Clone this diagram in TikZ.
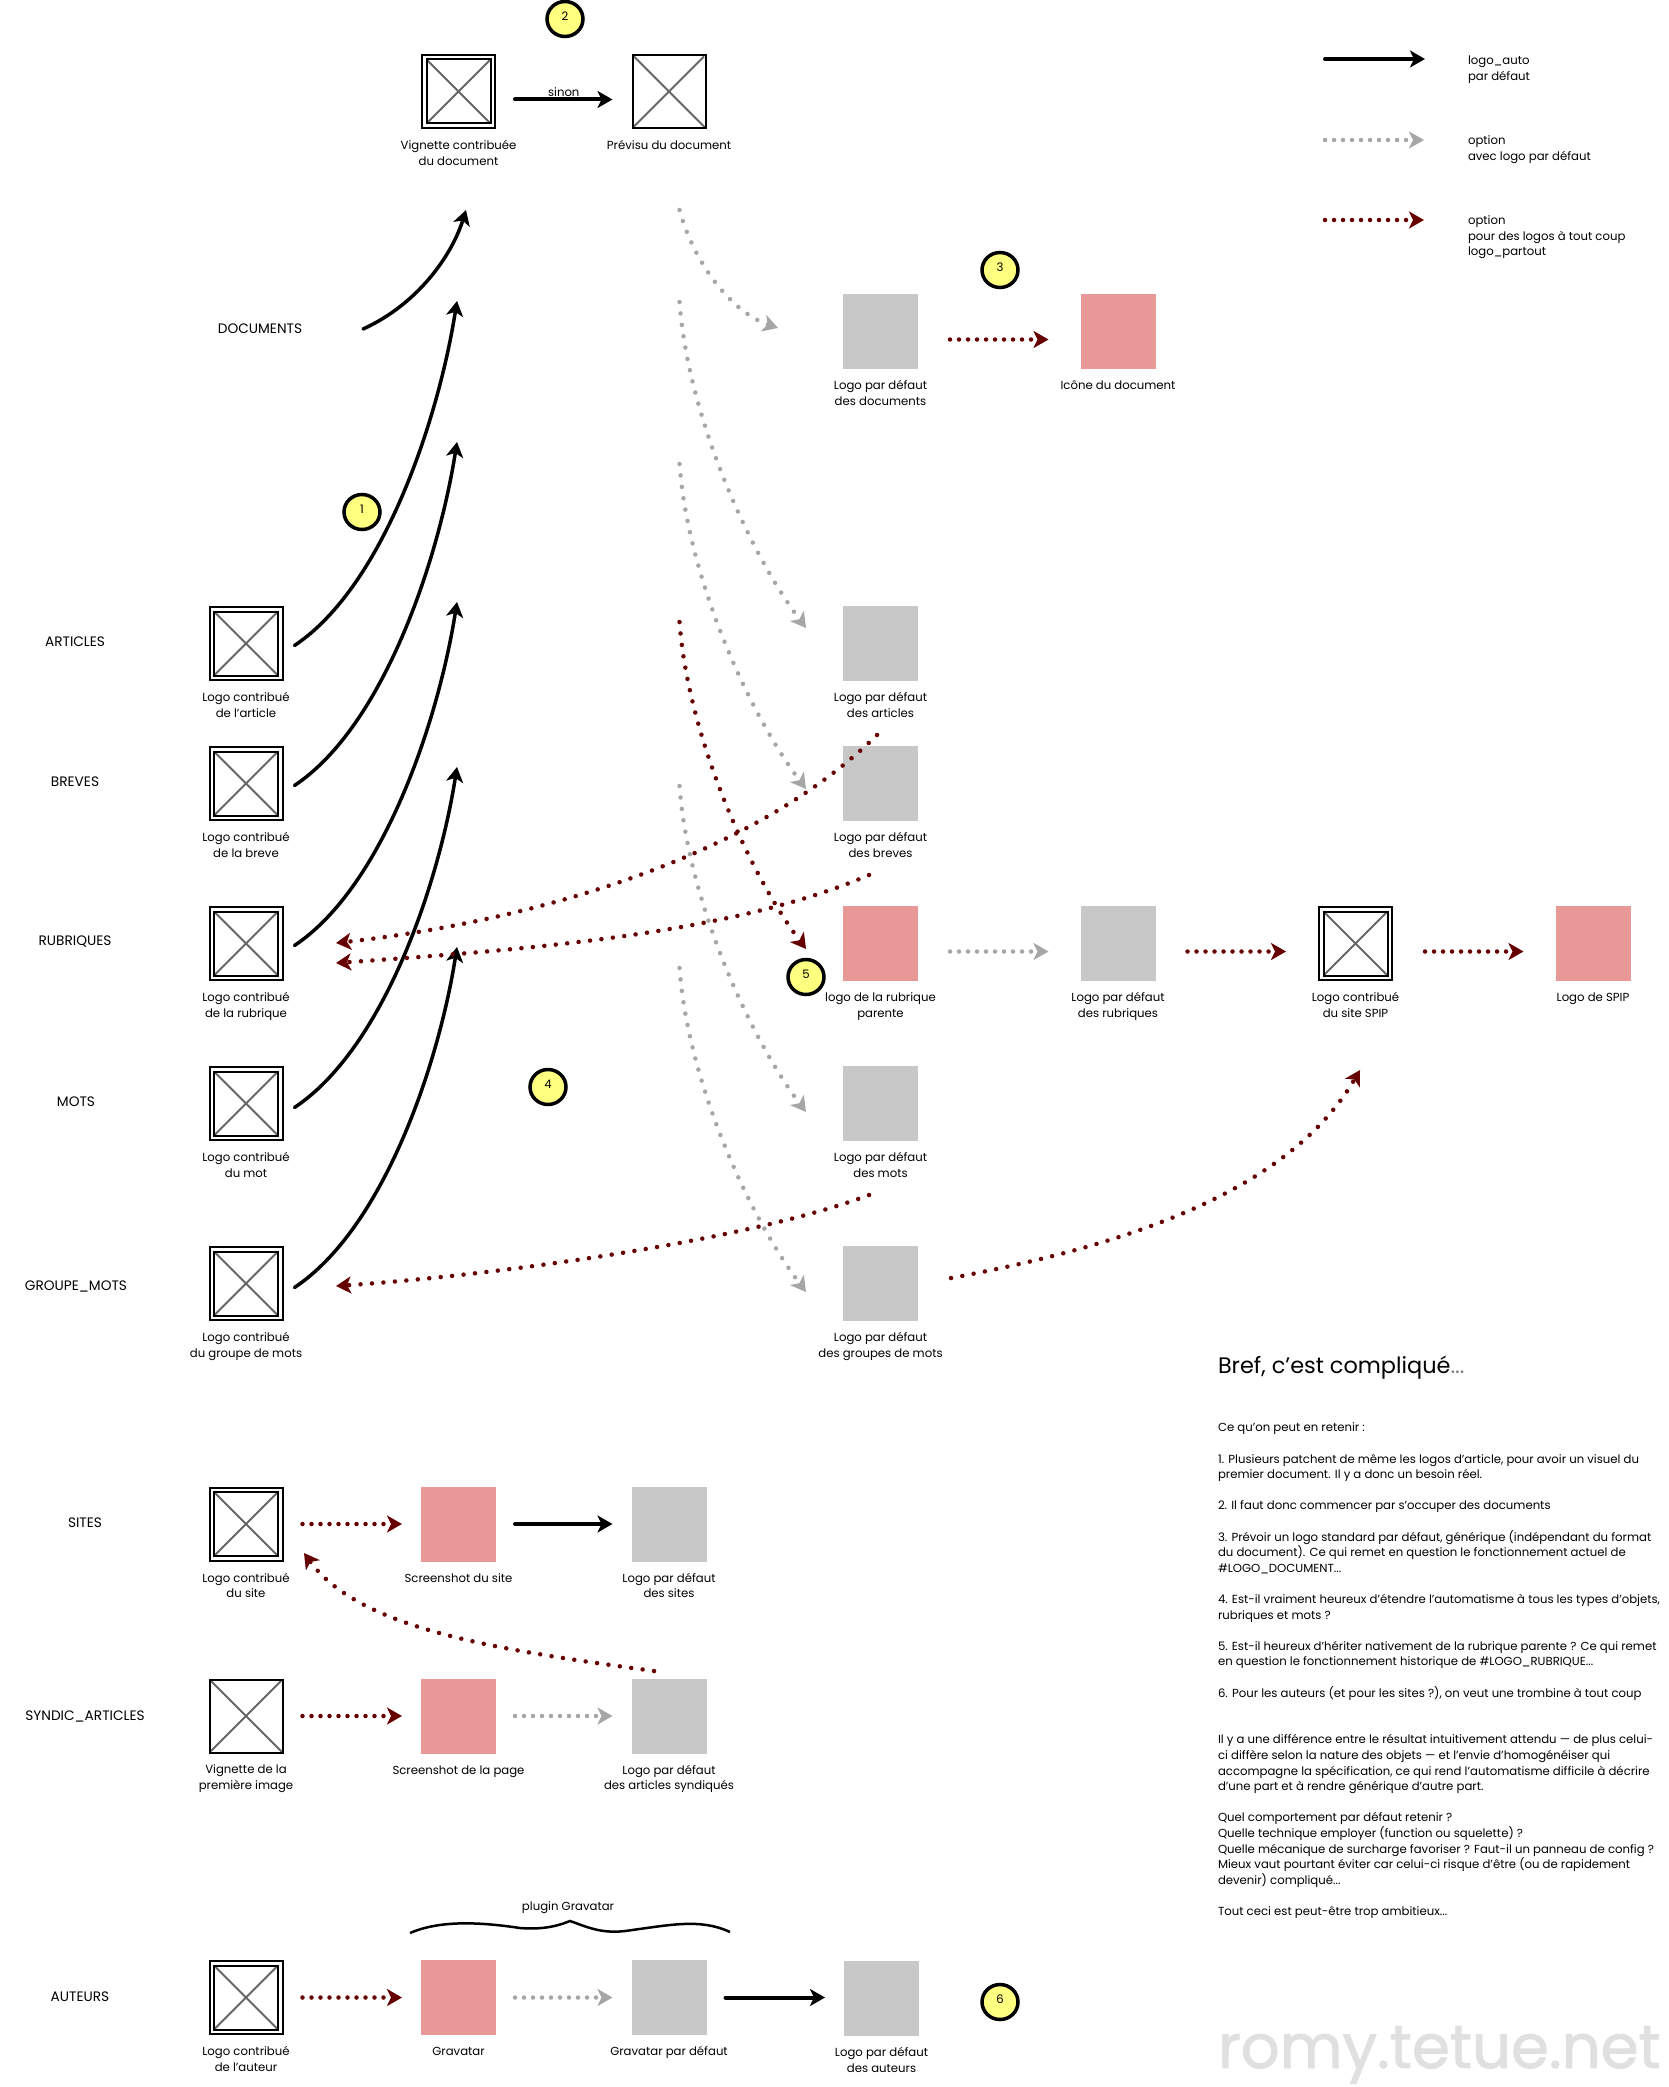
\documentclass[tikz,border=0pt]{standalone}
\usepackage{fontspec}
\setmainfont{Poppins}
\usetikzlibrary{arrows.meta,positioning,shapes.geometric}
\definecolor{rouille}{HTML}{660000}
\definecolor{cendre}{HTML}{A6A6A6}
\definecolor{logogris}{HTML}{C8C8C8}
\definecolor{logorose}{HTML}{E99898}
\definecolor{bulleJaune}{HTML}{FFFF80}
\definecolor{filigrane}{HTML}{E0E0E0}

\begin{document}
\begin{tikzpicture}[
    x=1pt, y=-1pt,
    texte/.style={font={\fontsize{11.7}{15.6}\selectfont}, inner sep=0pt, outer sep=0pt},
    legende/.style={texte, align=center, execute at begin node=\strut},
    note/.style={texte, align=left, anchor=west},
    objet/.style={texte, anchor=center, font={\fontsize{13.7}{15.6}\selectfont}},
    vide/.style={rectangle, draw, line width=2pt, minimum size=73pt, inner sep=0pt, outer sep=1pt,
        path picture={\draw[color=black!60, line width=2pt, shorten <=2pt, shorten >=2pt]
            (path picture bounding box.north west) -- (path picture bounding box.south east)
            (path picture bounding box.north east) -- (path picture bounding box.south west);}},
    contribue/.style={vide, double, double distance=2.5pt, minimum size=68.5pt, outer sep=3.25pt},
    gris/.style={rectangle, fill=logogris, minimum size=75pt, inner sep=0pt, outer sep=0pt},
    rose/.style={gris, fill=logorose},
    bulle/.style={ellipse, draw, line width=3.5pt, fill=bulleJaune, minimum width=36pt, minimum height=35pt,
        inner sep=0pt, font={\fontsize{11.7}{12}\selectfont}},
    noir/.style={line width=4pt, line cap=round, -{Stealth[length=15pt,width=17pt,inset=4pt]}},
    courbe/.style={noir, line width=3.5pt},
    pointille/.style={line width=4.5pt, line cap=round, dash pattern=on 0pt off 9pt,
        -{Stealth[length=15pt,width=17pt,inset=4pt]}},
    option/.style={pointille, color=cendre},
    partout/.style={pointille, color=rouille},
    espace/.style={dash pattern=on 0pt off 11.5pt},
    ecart/.style={shorten <=#1, shorten >=#1}
]

    \useasboundingbox (0,0) rectangle (1668,2087);

    % Document
    \node[contribue] (doc_vignette) at (458.5,91.5) {};
    \node[vide] (doc_previsu) at (669,91.5) {};
    \node[gris] (doc_defaut) at (880.5,331.5) {};
    \node[rose] (doc_icone) at (1118,331.5) {};

    % Objets editoriaux
    \node[contribue] (art_logo) at (246,643.5) {};
    \node[contribue] (bre_logo) at (246,783.5) {};
    \node[contribue] (rub_logo) at (246,943.5) {};
    \node[contribue] (mot_logo) at (246,1103.5) {};
    \node[contribue] (grp_logo) at (246,1283.5) {};
    \node[gris] (art_defaut) at (880.5,643.5) {};
    \node[gris] (bre_defaut) at (880.5,783.5) {};
    \node[rose] (rub_parente) at (880.5,943.5) {};
    \node[gris] (mot_defaut) at (880.5,1103.5) {};
    \node[gris] (grp_defaut) at (880.5,1283.5) {};
    \node[gris] (rub_defaut) at (1118,943.5) {};
    \node[contribue] (spip_logo) at (1355.5,943.5) {};
    \node[rose] (spip_defaut) at (1593,943.5) {};

    % Sites, syndication, auteurs
    \node[contribue] (site_logo) at (246,1524) {};
    \node[rose] (site_shot) at (458.5,1524) {};
    \node[gris] (site_defaut) at (669,1524) {};
    \node[vide] (syn_vignette) at (246,1716) {};
    \node[rose] (syn_shot) at (458.5,1716) {};
    \node[gris] (syn_defaut) at (669,1716) {};
    \node[contribue] (aut_logo) at (246,1997.5) {};
    \node[rose] (aut_gravatar) at (458.5,1997.5) {};
    \node[gris] (aut_grav_defaut) at (669,1997.5) {};
    \node[gris] (aut_defaut) at (881.5,1998.5) {};

    % Legendes des logos
    \node[legende, below=11.5pt of doc_vignette] (t1) {Vignette contribuée\\du document};
    \node[legende, below=10pt of doc_previsu] (t2) {Prévisu du document};
    \node[legende, below=11.5pt of doc_defaut] (t3) {Logo par défaut\\des documents};
    \node[legende, below=10pt of doc_icone] (t4) {Icône du document};
    \node[legende, below=11.5pt of art_logo] (t5) {Logo contribué\\de l'article};
    \node[legende, below=11.5pt of bre_logo] (t6) {Logo contribué\\de la breve};
    \node[legende, below=11.5pt of rub_logo] (t7) {Logo contribué\\de la rubrique};
    \node[legende, below=11.5pt of mot_logo] (t8) {Logo contribué\\du mot};
    \node[legende, below=11.5pt of grp_logo] (t9) {Logo contribué\\du groupe de mots};
    \node[legende, below=11.5pt of art_defaut] (t10) {Logo par défaut\\des articles};
    \node[legende, below=11.5pt of bre_defaut] (t11) {Logo par défaut\\des breves};
    \node[legende, below=11.5pt of rub_parente] (t12) {logo de la rubrique\\parente};
    \node[legende, below=11.5pt of mot_defaut] (t13) {Logo par défaut\\des mots};
    \node[legende, below=11.5pt of grp_defaut] (t14) {Logo par défaut\\des groupes de mots};
    \node[legende, below=11.5pt of rub_defaut] (t15) {Logo par défaut\\des rubriques};
    \node[legende, below=11.5pt of spip_logo] (t16) {Logo contribué\\du site SPIP};
    \node[legende, below=10pt of spip_defaut] (t17) {Logo de SPIP};
    \node[legende, below=11.5pt of site_logo] (t18) {Logo contribué\\du site};
    \node[legende, below=10pt of site_shot] (t19) {Screenshot du site};
    \node[legende, below=11.5pt of site_defaut] (t20) {Logo par défaut\\des sites};
    \node[legende, below=11.5pt of syn_vignette] (t21) {Vignette de la\\première image};
    \node[legende, below=10pt of syn_shot] (t22) {Screenshot de la page};
    \node[legende, below=11.5pt of syn_defaut] (t23) {Logo par défaut\\des articles syndiqués};
    \node[legende, below=11.5pt of aut_logo] (t24) {Logo contribué\\de l'auteur};
    \node[legende, below=10pt of aut_gravatar] (t25) {Gravatar};
    \node[legende, below=10pt of aut_grav_defaut] (t26) {Gravatar par défaut};
    \node[legende, below=11.5pt of aut_defaut] (t27) {Logo par défaut\\des auteurs};

    % Types d'objets
    \node[objet] (documents) at (260,329) {DOCUMENTS};
    \node[objet] (articles) at (75,642) {ARTICLES};
    \node[objet] (breves) at (75,782) {BREVES};
    \node[objet] (rubriques) at (75,942) {RUBRIQUES};
    \node[objet] (mots) at (76,1102) {MOTS};
    \node[objet] (groupe) at (76,1286) {GROUPE\_MOTS};
    \node[objet] (sites) at (85,1523) {SITES};
    \node[objet] (syndic) at (85,1716) {SYNDIC\_ARTICLES};
    \node[objet] (auteurs) at (80,1997) {AUTEURS};

    % Bulles
    \node[bulle] (n1) at (362,512) {\raisebox{5pt}{1}};
    \node[bulle] (n2) at (565,19) {\raisebox{5pt}{2}};
    \node[bulle] (n3) at (1000,270) {\raisebox{5pt}{3}};
    \node[bulle] (n4) at (548,1087) {\raisebox{5pt}{4}};
    \node[bulle] (n5) at (806,977) {\raisebox{5pt}{5}};
    \node[bulle] (n6) at (1000,2002) {\raisebox{5pt}{6}};

    % Bouts libres des fleches
    \coordinate (fin_doc) at (466,210);
    \coordinate (fin_art) at (457,301);
    \coordinate (fin_bre) at (457,442);
    \coordinate (fin_rub) at (457,602);
    \coordinate (fin_mot) at (457,767);
    \coordinate (fin_grp) at (457,947);
    \coordinate (opt_doc_a) at (679.5,210);
    \coordinate (opt_doc_b) at (778,328);
    \coordinate (opt_art_a) at (679.5,302);
    \coordinate (opt_art_b) at (806,628);
    \coordinate (opt_bre_a) at (679.5,464);
    \coordinate (opt_bre_b) at (806,789);
    \coordinate (opt_rub_a) at (679.5,622);
    \coordinate (opt_rub_b) at (806,949);
    \coordinate (opt_mot_a) at (679.5,786);
    \coordinate (opt_mot_b) at (806,1112);
    \coordinate (opt_grp_a) at (679.5,968);
    \coordinate (opt_grp_b) at (806,1292);
    \coordinate (ret_art_a) at (877,735);
    \coordinate (ret_art_b) at (336,943);
    \coordinate (ret_bre_a) at (869,875);
    \coordinate (ret_bre_b) at (336,963);
    \coordinate (ret_mot_a) at (869,1195);
    \coordinate (ret_mot_b) at (336,1286);
    \coordinate (ret_grp_a) at (951,1278);
    \coordinate (ret_grp_b) at (1360,1070);
    \coordinate (ret_syn_a) at (654,1671);
    \coordinate (ret_syn_b) at (304,1553);

    % Logo_auto
    \draw[courbe] ([xshift=61pt]documents.east) .. controls +(55,-25) and +(-14,45) .. (fin_doc);
    \draw[courbe] ([xshift=11pt,yshift=-2pt]art_logo.east) .. controls +(90,-60) and +(-18,115) .. (fin_art);
    \draw[courbe] ([xshift=11pt,yshift=-2pt]bre_logo.east) .. controls +(90,-60) and +(-18,115) .. (fin_bre);
    \draw[courbe] ([xshift=11pt,yshift=-2pt]rub_logo.east) .. controls +(90,-60) and +(-18,115) .. (fin_rub);
    \draw[courbe] ([xshift=11pt,yshift=-4pt]mot_logo.east) .. controls +(90,-60) and +(-18,115) .. (fin_mot);
    \draw[courbe] ([xshift=11pt,yshift=-4pt]grp_logo.east) .. controls +(90,-60) and +(-18,115) .. (fin_grp);

    % Options
    \draw[option, espace] (opt_doc_a) .. controls +(15,55) and +(-45,-15) .. (opt_doc_b);
    \draw[option, espace] (opt_art_a) .. controls +(8,110) and +(-60,-80) .. (opt_art_b);
    \draw[option, espace] (opt_bre_a) .. controls +(8,110) and +(-60,-80) .. (opt_bre_b);
    \draw[partout, espace] (opt_rub_a) .. controls +(8,110) and +(-60,-80) .. (opt_rub_b);
    \draw[option, espace] (opt_mot_a) .. controls +(8,110) and +(-60,-80) .. (opt_mot_b);
    \draw[option, espace] (opt_grp_a) .. controls +(8,110) and +(-60,-80) .. (opt_grp_b);

    % Retours
    \draw[partout, espace] (ret_art_a) .. controls (740,870) and (500,925) .. (ret_art_b);
    \draw[partout, espace] (ret_bre_a) .. controls (730,935) and (520,950) .. (ret_bre_b);
    \draw[partout, espace] (ret_mot_a) .. controls (750,1240) and (500,1275) .. (ret_mot_b);
    \draw[partout, espace] (ret_grp_a) .. controls (1130,1245) and (1290,1190) .. (ret_grp_b);
    \draw[partout, espace] (ret_syn_a) .. controls (500,1650) and (360,1630) .. (ret_syn_b);

    % Fleches droites
    \draw[noir, ecart=19pt] ([yshift=-8pt]doc_vignette.east) -- ([yshift=-8pt]doc_previsu.west) node[midway, above=3pt, texte] (sinon) {sinon};
    \draw[partout, ecart=32pt] ([yshift=-8pt]doc_defaut.east) -- ([yshift=-8pt]doc_icone.west);
    \draw[option, ecart=32pt] ([yshift=-8pt]rub_parente.east) -- ([yshift=-8pt]rub_defaut.west);
    \draw[partout, ecart=32pt] ([yshift=-8pt]rub_defaut.east) -- ([yshift=-8pt]spip_logo.west);
    \draw[partout, ecart=32pt] ([yshift=-8pt]spip_logo.east) -- ([yshift=-8pt]spip_defaut.west);
    \draw[partout, ecart=19pt] (site_logo.east) -- (site_shot.west);
    \draw[noir, ecart=19pt] (site_shot.east) -- (site_defaut.west);
    \draw[partout, ecart=19pt] (syn_vignette.east) -- (syn_shot.west);
    \draw[option, ecart=19pt] (syn_shot.east) -- (syn_defaut.west);
    \draw[partout, ecart=19pt] (aut_logo.east) -- (aut_gravatar.west);
    \draw[option, ecart=19pt] (aut_gravatar.east) -- (aut_grav_defaut.west);
    \draw[noir, ecart=19pt] (aut_grav_defaut.east) -- (aut_grav_defaut.east -| aut_defaut.west);

    % Plugin
    \node[texte] (plugin) at (568,1908) {plugin Gravatar};
    \draw[line width=2.5pt] (410,1933) .. controls (440,1920) and (480,1922) .. (520,1928)
        .. controls (545,1930) and (560,1925) .. (570,1921)
        .. controls (585,1926) and (600,1934) .. (625,1931)
        .. controls (670,1925) and (700,1918) .. (730,1932);

    % Cartouche
    \coordinate (cle_a1) at (1325,59);
    \coordinate (cle_a2) at (1425,59);
    \coordinate (cle_b1) at (1325,140);
    \coordinate (cle_b2) at (1424,140);
    \coordinate (cle_c1) at (1325,220);
    \coordinate (cle_c2) at (1424,220);
    \draw[noir] (cle_a1) -- (cle_a2);
    \draw[option] (cle_b1) -- (cle_b2);
    \draw[partout] (cle_c1) -- (cle_c2);
    \node[note] (cle_a) at (1468,69.5) {logo\_auto\\par défaut};
    \node[note] (cle_b) at (1468,149.5) {option\\avec logo par défaut};
    \node[note] (cle_c) at (1468,237.5) {option\\pour des logos à tout coup\\logo\_partout};

    % Texte
    \node[texte, anchor=west, font={\fontsize{22.4}{26}\selectfont}] (bref) at (1218,1368) {Bref, c'est compliqué\textcolor{black!50}{...}};
    \node[note, anchor=north west] (bilan) at (1218,1423) {Ce qu'on peut en retenir :\\[15.6pt]
        1. Plusieurs patchent de même les logos d'article, pour avoir un visuel du\\
        premier document. Il y a donc un besoin réel.\\[15.6pt]
        2. Il faut donc commencer par s'occuper des documents\\[15.6pt]
        3. Prévoir un logo standard par défaut, générique (indépendant du format\\
        du document). Ce qui remet en question le fonctionnement actuel de\\
        \#LOGO\_DOCUMENT...\\[15.6pt]
        4. Est-il vraiment heureux d'étendre l'automatisme à tous les types d'objets,\\
        rubriques et mots ?\\[15.6pt]
        5. Est-il heureux d'hériter nativement de la rubrique parente ? Ce qui remet\\
        en question le fonctionnement historique de \#LOGO\_RUBRIQUE...\\[15.6pt]
        6. Pour les auteurs (et pour les sites ?), on veut une trombine à tout coup\\[31.2pt]
        Il y a une différence entre le résultat intuitivement attendu — de plus celui-\\
        ci diffère selon la nature des objets — et l'envie d'homogénéiser qui\\
        accompagne la spécification, ce qui rend l'automatisme difficile à décrire\\
        d'une part et à rendre générique d'autre part.\\[15.6pt]
        Quel comportement par défaut retenir ?\\
        Quelle technique employer (function ou squelette) ?\\
        Quelle mécanique de surcharge favoriser ? Faut-il un panneau de config ?\\
        Mieux vaut pourtant éviter car celui-ci risque d'être (ou de rapidement\\
        devenir) compliqué...\\[15.6pt]
        Tout ceci est peut-être trop ambitieux...};
    \node[texte, anchor=base west, text=filigrane, font={\fontsize{61}{65}\selectfont\addfontfeature{FakeBold=1.5}}] (signature) at (1218,2068) {romy.tetue.net};

\end{tikzpicture}
\end{document}
